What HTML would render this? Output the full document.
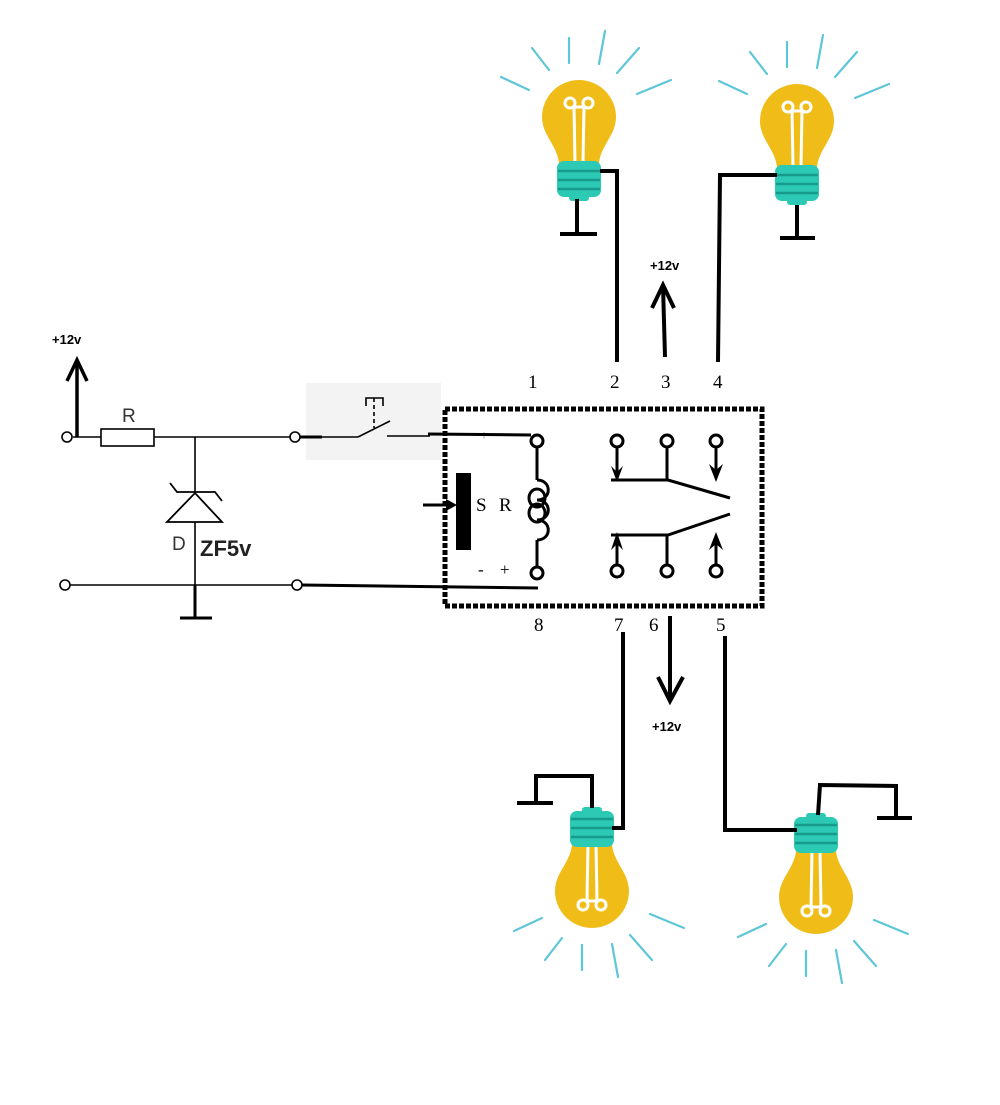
<!DOCTYPE html>
<html><head><meta charset="utf-8"><style>html,body{margin:0;padding:0;background:#fff;}svg{display:block}</style></head>
<body>
<svg width="1000" height="1105" viewBox="0 0 1000 1105" xmlns="http://www.w3.org/2000/svg">
<defs>
<g id="bulb">
  <g stroke="#5fc6d8" stroke-width="2.2" stroke-linecap="round">
    <line x1="-78" y1="-40" x2="-50" y2="-27"/>
    <line x1="-47" y1="-69" x2="-30" y2="-47"/>
    <line x1="-10" y1="-79" x2="-10" y2="-54"/>
    <line x1="26" y1="-86" x2="20" y2="-53"/>
    <line x1="60" y1="-69" x2="38" y2="-44"/>
    <line x1="92" y1="-37" x2="58" y2="-23"/>
  </g>
  <path d="M -37 0 A 37 37 0 1 1 37 0 C 37 18 22 28 20 46 L -20 46 C -22 28 -37 18 -37 0 Z" fill="#f0bd18"/>
  <g fill="none" stroke="#fff" stroke-width="3">
    <ellipse cx="-9" cy="-14" rx="5" ry="5"/>
    <ellipse cx="9" cy="-14" rx="5" ry="5"/>
    <path d="M -5 -10 L -4 46 M 5 -10 L 4 46 M -4 -10 L 4 -10"/>
  </g>
  <rect x="-22" y="44" width="44" height="36" rx="7" fill="#2cc9b5"/>
  <rect x="-10" y="78" width="20" height="6" rx="3" fill="#2cc9b5"/>
  <g stroke="#179a8a" stroke-width="2.5">
    <line x1="-21" y1="54" x2="21" y2="54"/>
    <line x1="-21" y1="63" x2="21" y2="63"/>
    <line x1="-21" y1="72" x2="21" y2="72"/>
  </g>
</g>
</defs>

<!-- bulbs -->
<use href="#bulb" transform="translate(579,117)"/>
<use href="#bulb" transform="translate(797,121)"/>
<use href="#bulb" transform="translate(592,891) scale(1,-1)"/>
<use href="#bulb" transform="translate(816,897) scale(1,-1)"/>

<g stroke="#000" stroke-width="4" fill="none">
  <!-- top left wiring -->
  <polyline points="600,171 617,171 617,362"/>
  <line x1="577" y1="199" x2="577" y2="234"/>
  <line x1="560" y1="234" x2="597" y2="234"/>
  <!-- top right -->
  <polyline points="777,175 720,175 718,362"/>
  <line x1="797" y1="205" x2="797" y2="238"/>
  <line x1="780" y1="238" x2="815" y2="238"/>
  <!-- pin 3 arrow -->
  <line x1="665" y1="357" x2="663" y2="286"/>
  <polyline points="652,308 663,285 674,308"/>
  <!-- pin 7 -->
  <polyline points="623,632 623,828 612,828"/>
  <!-- pin 6 arrow -->
  <line x1="670" y1="616" x2="670" y2="700"/>
  <polyline points="658,677 670,701 683,677"/>
  <!-- pin 5 -->
  <polyline points="725,636 725,830 797,830"/>
  <!-- bottom left ground -->
  <polyline points="592,808 592,776 536,776 536,803"/>
  <line x1="517" y1="803" x2="553" y2="803"/>
  <!-- bottom right ground -->
  <polyline points="818,815 820,785 896,786 896,818"/>
  <line x1="877" y1="818" x2="912" y2="818"/>
</g>

<!-- numbers -->
<g font-family="Liberation Serif, serif" font-size="19" fill="#000">
  <text x="528" y="388">1</text>
  <text x="610" y="388">2</text>
  <text x="661" y="388">3</text>
  <text x="713" y="388">4</text>
  <text x="534" y="631">8</text>
  <text x="614" y="631">7</text>
  <text x="649" y="631">6</text>
  <text x="716" y="631">5</text>
</g>
<g font-family="Liberation Sans, sans-serif" font-weight="bold" font-size="13" fill="#000">
  <text x="650" y="270">+12v</text>
  <text x="652" y="731">+12v</text>
  <text x="52" y="344">+12v</text>
</g>

<!-- switch shaded box -->
<rect x="306" y="383" width="135" height="77" fill="#f3f3f3"/>

<!-- relay box -->
<rect x="445" y="409" width="317" height="197" fill="none" stroke="#000" stroke-width="5" stroke-dasharray="5,2"/>

<g stroke="#000" stroke-width="3" fill="none">
  <!-- coil -->
  <line x1="537" y1="447" x2="537" y2="480"/>
  <path d="M537 480 C 552 480 552 500 537 500 C 552 500 552 520 537 520 C 552 520 552 540 537 540"/>
  <ellipse cx="537" cy="498" rx="8" ry="9"/>
  <ellipse cx="537" cy="513" rx="8" ry="9"/>
  <line x1="537" y1="540" x2="537" y2="567"/>
  <circle cx="537" cy="441" r="6"/>
  <circle cx="537" cy="573" r="6"/>
  <!-- contacts -->
  <circle cx="617" cy="441" r="6"/>
  <circle cx="667" cy="441" r="6"/>
  <circle cx="716" cy="441" r="6"/>
  <circle cx="617" cy="571" r="6"/>
  <circle cx="667" cy="571" r="6"/>
  <circle cx="716" cy="571" r="6"/>
  <line x1="617" y1="447" x2="617" y2="478"/>
  <line x1="667" y1="447" x2="667" y2="480"/>
  <line x1="716" y1="447" x2="716" y2="475"/>
  <polyline points="611,480 668,480 730,498"/>
  <polyline points="611,535 668,535 730,514"/>
  <line x1="617" y1="565" x2="617" y2="540"/>
  <line x1="667" y1="565" x2="667" y2="535"/>
  <line x1="716" y1="565" x2="716" y2="540"/>
</g>
<g fill="#000">
  <polygon points="611,466 617,482 623,466 617,472"/>
  <polygon points="709,464 716,482 723,464 716,470"/>
  <polygon points="611,550 617,532 623,550 617,544"/>
  <polygon points="709,550 716,532 723,550 716,544"/>
  <rect x="456" y="473" width="15" height="77"/>
  <polygon points="446,499 457,505 446,511"/>
</g>
<line x1="423" y1="505" x2="450" y2="505" stroke="#000" stroke-width="3"/>
<g font-family="Liberation Serif, serif" font-size="19" fill="#000">
  <text x="476" y="511">S</text>
  <text x="499" y="511">R</text>
  <text x="478" y="575" font-size="17">-</text>
  <text x="500" y="575" font-size="17">+</text>
  <text x="480" y="440" font-size="14" fill="#888">+</text>
</g>

<!-- wires into relay -->
<g stroke="#000" fill="none">
  <line x1="428" y1="434" x2="531" y2="435" stroke-width="3"/>
  <line x1="302" y1="585" x2="538" y2="588" stroke-width="3"/>
  <!-- switch -->
  <line x1="300" y1="437" x2="322" y2="437" stroke-width="3"/>
  <line x1="322" y1="437" x2="358" y2="437" stroke-width="1.6"/>
  <line x1="358" y1="437" x2="390" y2="421" stroke-width="1.6"/>
  <line x1="387" y1="436" x2="430" y2="436" stroke-width="1.6"/>
  <polyline points="366,406 366,398 383,398 383,406" stroke-width="1.6"/>
  <line x1="374" y1="398" x2="374" y2="428" stroke-width="1.6" stroke-dasharray="4,3"/>
  <!-- left circuit -->
  <line x1="73" y1="437" x2="101" y2="437" stroke-width="1.6"/>
  <rect x="101" y="429" width="53" height="17" stroke-width="1.6"/>
  <line x1="154" y1="437" x2="290" y2="437" stroke-width="1.6"/>
  <line x1="195" y1="437" x2="195" y2="585" stroke-width="1.6"/>
  <line x1="195" y1="585" x2="195" y2="618" stroke-width="3"/>
  <line x1="180" y1="618" x2="212" y2="618" stroke-width="3"/>
  <line x1="70" y1="585" x2="292" y2="585" stroke-width="1.6"/>
  <circle cx="67" cy="437" r="5" stroke-width="1.6" fill="#fff"/>
  <circle cx="295" cy="437" r="5" stroke-width="1.6" fill="#fff"/>
  <circle cx="65" cy="585" r="5" stroke-width="1.6" fill="#fff"/>
  <circle cx="297" cy="585" r="5" stroke-width="1.6" fill="#fff"/>
  <!-- zener -->
  <polygon points="167,522 222,522 195,493" stroke-width="1.8" fill="#fff"/>
  <polyline points="170,483 177,492 215,492 222,501" stroke-width="1.8"/>
  <!-- +12 arrow -->
  <line x1="77" y1="437" x2="77" y2="362" stroke-width="3.5"/>
  <polyline points="67,381 77,360 87,381" stroke-width="3.5"/>
</g>
<text x="122" y="422" font-family="Liberation Sans, sans-serif" font-size="19" fill="#333">R</text>
<text x="172" y="550" font-family="Liberation Sans, sans-serif" font-size="19" fill="#333">D</text>
<text x="200" y="556" font-family="Liberation Sans, sans-serif" font-size="22" font-weight="bold" fill="#222">ZF5v</text>
</svg>
</body></html>
